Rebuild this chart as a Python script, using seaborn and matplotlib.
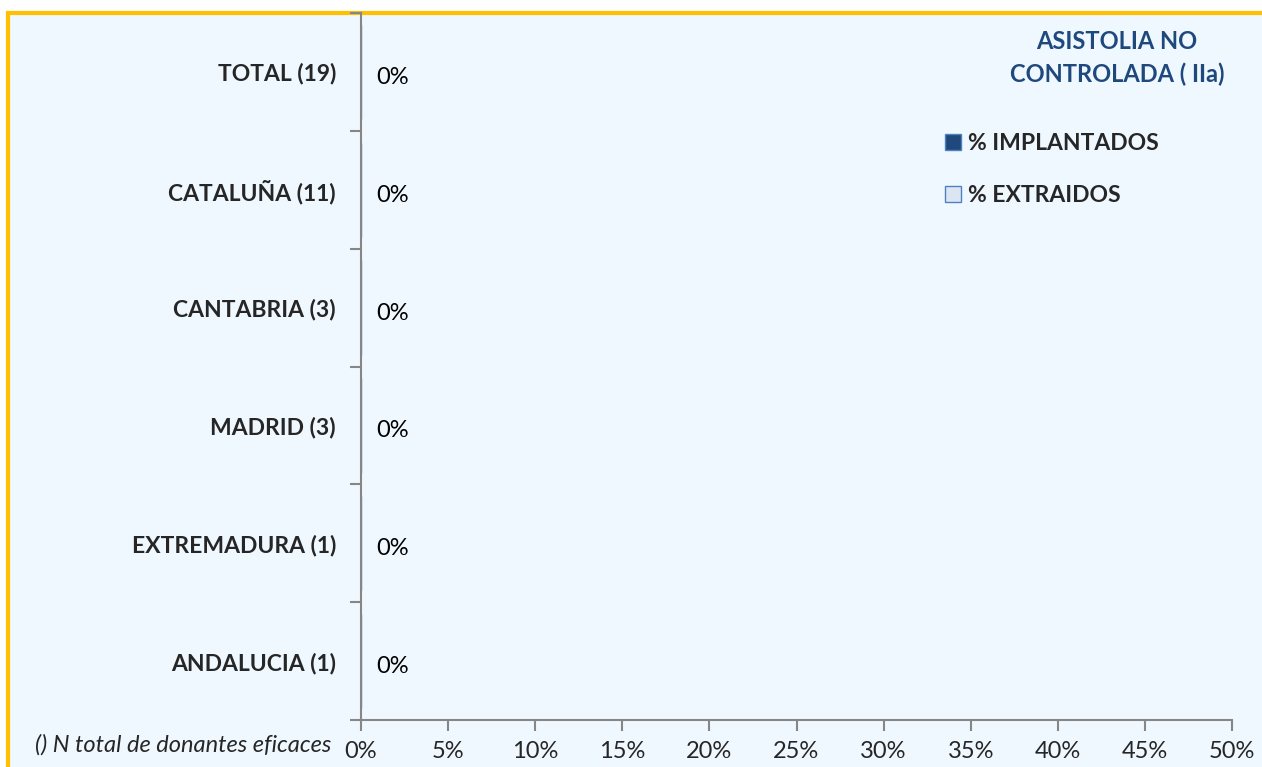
import matplotlib
matplotlib.use("Agg")
import matplotlib.pyplot as plt
import seaborn as sns
import pandas as pd
from matplotlib.patches import Rectangle

# data
regiones = ["TOTAL (19)", "CATALUÑA (11)", "CANTABRIA (3)", "MADRID (3)",
            "EXTREMADURA (1)", "ANDALUCIA (1)"]
pct_implantados = [0, 0, 0, 0, 0, 0]
pct_extraidos = [0, 0, 0, 0, 0, 0]
series = ["% IMPLANTADOS", "% EXTRAIDOS"]
xticks = [0, 5, 10, 15, 20, 25, 30, 35, 40, 45, 50]

df = pd.DataFrame({
    "region": regiones * 2,
    "serie": [series[0]] * len(regiones) + [series[1]] * len(regiones),
    "valor": pct_implantados + pct_extraidos,
})

sns.set_style("white")
plt.rcParams["font.family"] = ["Lato", "DejaVu Sans"]

fig = plt.figure(figsize=(12.62, 7.67), dpi=100)
fig.patch.set_facecolor("white")

# panel background with orange border
bg = Rectangle((8 / 1262, -0.1), 1.1, 0.1 + 1 - 13 / 767,
               transform=fig.transFigure, facecolor="#F0F8FF",
               edgecolor="#FFC000", linewidth=3, zorder=-10)
fig.patches.append(bg)

ax = fig.add_axes([361 / 1262, 1 - 720 / 767, 871 / 1262, (720 - 13) / 767])
ax.set_facecolor("none")

palette = {series[0]: "#1F497D", series[1]: "#DCE6F2"}
sns.barplot(data=df, y="region", x="valor", hue="serie", palette=palette,
            orient="h", ax=ax, order=regiones, hue_order=series,
            edgecolor="#4F81BD", linewidth=1, legend=False)

ax.set_xlim(0, 50)
ax.set_ylim(len(regiones) - 0.5, -0.5)

# value labels
for i, v in enumerate(pct_implantados):
    ax.annotate(f"{v}%", xy=(v, i), xytext=(11, -4), textcoords="offset points",
                ha="left", va="center", fontsize=17, color="#000000")

ax.set_xticks(xticks)
ax.set_xticklabels([f"{t}%" for t in xticks], fontsize=17)
ax.set_yticks([i - 0.5 for i in range(len(regiones) + 1)])
ax.set_yticklabels([])
ax.set_yticks(range(len(regiones)), minor=True)
ax.set_yticklabels(regiones, minor=True, fontsize=16.5, fontweight="bold")
ax.tick_params(axis="y", which="major", left=True, length=8, width=1.5,
               color="#868686", direction="out")
ax.tick_params(axis="y", which="minor", left=True, length=0, pad=18)
ax.tick_params(axis="x", bottom=True, length=8, width=1.5, color="#868686",
               direction="out", pad=7)
ax.set_xlabel("")
ax.set_ylabel("")

for s in ["top", "right"]:
    ax.spines[s].set_visible(False)
for s in ["left", "bottom"]:
    ax.spines[s].set_color("#868686")
    ax.spines[s].set_linewidth(1.5)

handles = [Rectangle((0, 0), 1, 1, facecolor=palette[s], edgecolor="#4F81BD", linewidth=1)
           for s in series]
leg = ax.legend(handles, series, loc="upper left",
                bbox_to_anchor=(934 / 1262, 1 - 122 / 767),
                bbox_transform=fig.transFigure, frameon=False,
                prop={"weight": "bold", "size": 16.5},
                handlelength=0.7, handleheight=0.7, handletextpad=0.3,
                labelspacing=1.35, borderpad=0)

fig.text(1117 / 1262, 1 - 58 / 767, "ASISTOLIA NO\nCONTROLADA ( IIa)",
         fontsize=17, fontweight="bold", color="#1F497D", ha="center",
         va="center", multialignment="center", linespacing=1.45)

fig.text(35 / 1262, 1 - 745 / 767, "() N total de donantes eficaces",
         fontsize=17, style="italic", color="#262626", va="center", ha="left")

fig.savefig("out.png", dpi=100, facecolor=fig.get_facecolor())
